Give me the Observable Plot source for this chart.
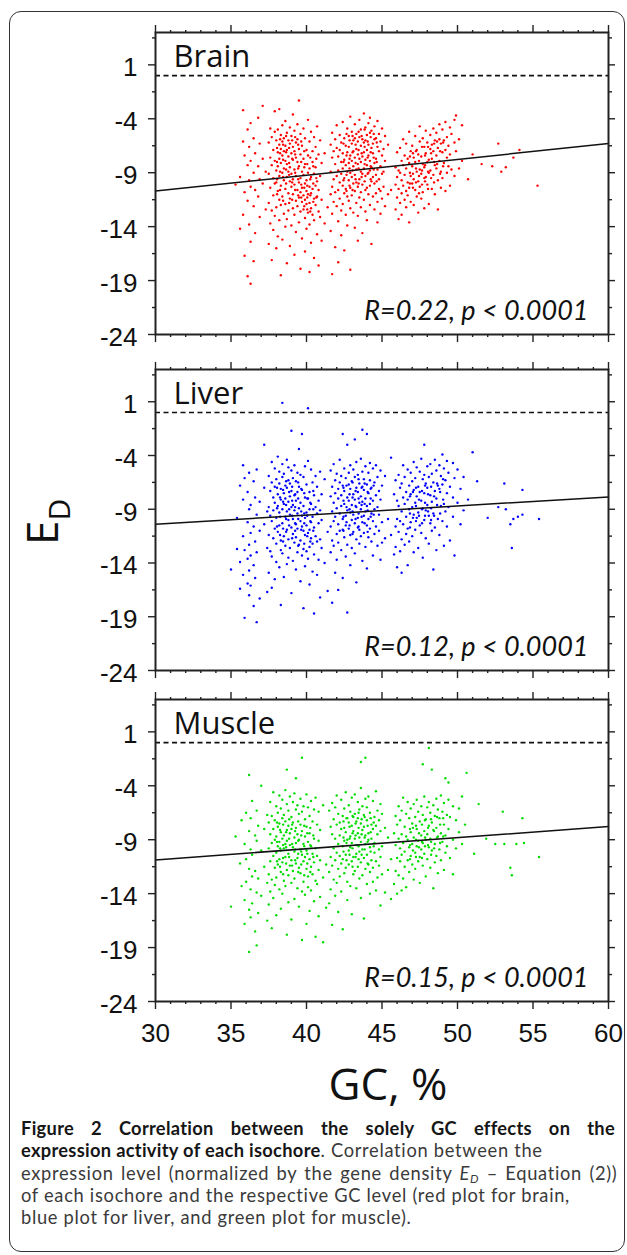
<!DOCTYPE html>
<html><head><meta charset="utf-8">
<script src="https://cdn.jsdelivr.net/npm/d3@7"></script>
<script src="https://cdn.jsdelivr.net/npm/@observablehq/plot@0.6"></script>
<style>
html,body{margin:0;padding:0;background:#fff;}
#fig{position:relative;width:627px;height:1255px;overflow:hidden;font-family:"Open Sans",sans-serif;background:#fff;}
#box{position:absolute;left:9px;top:11px;width:616px;height:1241px;border:1.5px solid #333;border-radius:12px;box-sizing:border-box;}
.panel{position:absolute;left:0;}
#caption{position:absolute;left:21px;top:1117px;width:594px;font-family:Lato,"Open Sans",sans-serif;font-size:18.3px;line-height:22.3px;letter-spacing:0.7px;color:#3a3a3a;white-space:nowrap;}
#caption b{color:#161616;letter-spacing:0.3px;}
#caption .l1{text-align:justify;text-align-last:justify;white-space:normal;}
#caption .l3{word-spacing:2px;}
#caption sub{font-size:12px;line-height:0;vertical-align:-3px;}
#overlay{position:absolute;left:0;top:0;pointer-events:none;}
</style></head><body>
<div id="fig">
<div id="box"></div>
<div id="p0" class="panel"></div>
<div id="p1" class="panel"></div>
<div id="p2" class="panel"></div>
<svg id="overlay" width="627" height="1255"></svg>
<div id="caption">
<div class="l1"><b>Figure 2 Correlation between the solely GC effects on the</b></div>
<div><b>expression activity of each isochore</b>. Correlation between the</div>
<div class="l3">expression level (normalized by the gene density <i>E<sub>D</sub></i> – Equation (2))</div>
<div>of each isochore and the respective GC level (red plot for brain,</div>
<div>blue plot for liver, and green plot for muscle).</div>
</div>
</div>
<script>
// ---- data (each row: GC %, then E_D values at that GC) ----
const tissues = ["Brain", "Liver", "Muscle"];
const colors = ["#ff0000", "#0000ff", "#00dd00"];
const rTexts = ["R=0.22, p < 0.0001", "R=0.12, p < 0.0001", "R=0.15, p < 0.0001"];
const fitSlope = [0.1467, 0.085, 0.1033];
const fitIntercept = [-15.1, -12.95, -13.97];
const xMajor = [30, 35, 40, 45, 50, 55, 60];
const yMajor = [1, -4, -9, -14, -19, -24];
const yMinor = [3.5, -1.5, -6.5, -11.5, -16.5, -21.5];
const xLabel = "GC, %";
const yLabel = "E";
const yLabelSub = "D";

const brainCols = [
[35.3,-10.1],[35.6,-9.4,-14.2],[35.8,-3.2,-6.1,-12.9],[35.9,-7.4,-10.8,-16.7],[36.1,-5.0,-8.3,-11.6,-18.6],
[36.2,-6.6,-9.7,-13.8],[36.3,-4.4,-7.9,-10.3,-15.4,-19.3],[36.5,-5.8,-9.0,-12.1,-17.2],[36.6,-7.2,-10.6,-14.6],
[36.8,-3.9,-8.4,-11.2],[36.9,-6.3,-9.6,-13.1],[37.1,-2.8,-7.7,-10.0],[37.3,-8.9,-12.4],
[37.5,-6.2,-9.1,-11.8,-15.6],[37.6,-4.9,-7.6,-10.4,-13.7],[37.7,-5.7,-8.3,-12.5,-17.1],[37.8,-6.9,-9.5,-11.1,-14.3],
[37.9,-3.3,-5.2,-7.9,-10.0,-13.0],[38.0,-6.0,-8.8,-9.9,-12.2,-16.0],[38.1,-5.0,-7.1,-8.4,-10.7,-14.9],
[38.2,-3.1,-6.4,-7.7,-9.3,-11.5,-13.4],[38.3,-5.5,-6.8,-8.1,-10.2,-12.0,-18.5],[38.4,-4.6,-6.1,-7.4,-9.0,-11.2,-15.2],
[38.5,-5.8,-7.0,-8.6,-9.7,-12.8],[38.6,-4.2,-6.5,-7.9,-10.5,-11.9,-14.0],[38.7,-5.3,-6.9,-8.2,-9.4,-13.3,-17.4],
[38.8,-6.0,-7.5,-8.9,-10.9,-12.5],[38.9,-4.8,-6.3,-8.5,-9.8,-11.4,-15.8],[39.0,-5.6,-7.2,-9.1,-10.3,-13.9],
[39.1,-3.6,-6.6,-7.8,-9.6,-11.0,-12.3],[39.2,-5.1,-7.0,-8.7,-10.1,-12.9,-16.6],[39.3,-6.2,-7.6,-9.3,-11.6,-14.5],
[39.4,-4.5,-5.9,-8.0,-10.6,-12.1],[39.5,-2.3,-6.8,-8.4,-9.9,-11.3,-13.6],[39.6,-5.4,-7.3,-9.5,-10.8,-12.6,-17.9],
[39.7,-6.5,-8.9,-10.4,-11.7,-15.1],[39.8,-4.9,-7.7,-9.2,-11.1,-12.4],[39.9,-5.8,-8.2,-10.0,-11.5,-13.2,-16.3],
[40.0,-6.9,-9.7,-10.7,-11.9,-14.2],[40.1,-4.1,-7.4,-9.0,-11.0,-12.7],[40.2,-6.1,-8.6,-10.3,-11.8,-13.8,-18.2],
[40.3,-5.2,-9.4,-10.9,-12.3,-15.5],[40.4,-7.0,-8.0,-10.5,-12.9],[40.5,-5.7,-9.1,-11.4,-13.4,-16.9],
[40.6,-6.6,-8.5,-10.2,-12.0],[40.7,-4.7,-9.8,-11.2,-14.7],[40.8,-7.3,-10.6,-12.6,-17.6],[40.9,-6.0,-9.3,-13.1],
[41.0,-8.1,-11.5,-15.3],[41.2,-7.2,-13.7],[41.4,-12.2],
[41.6,-6.4,-8.9,-11.0,-14.4],[41.7,-5.3,-7.6,-10.3,-12.8,-18.4],[41.8,-7.0,-9.6,-11.7],[41.9,-5.9,-8.2,-10.8,-15.9],
[42.0,-4.6,-6.7,-9.3,-12.1],[42.1,-7.5,-8.8,-10.6,-13.5,-17.3],[42.2,-5.5,-6.9,-9.9,-11.4],[42.3,-6.2,-8.0,-9.1,-12.5,-14.8],
[42.4,-4.3,-7.2,-8.6,-10.2,-11.9],[42.5,-5.8,-7.8,-9.5,-10.9,-16.2],[42.6,-6.5,-8.3,-10.5,-12.9],
[42.7,-4.9,-7.1,-8.9,-11.2,-13.9],[42.8,-5.6,-6.6,-8.1,-9.7,-11.6],[42.9,-3.8,-7.4,-9.0,-10.4,-12.3,-18.0],
[43.0,-5.2,-6.3,-7.9,-9.4,-11.1],[43.1,-6.0,-7.0,-8.4,-10.0,-12.7],[43.2,-4.5,-5.8,-7.6,-9.2,-10.7,-14.1],
[43.3,-5.4,-6.8,-8.7,-9.9,-11.8],[43.4,-6.1,-7.3,-8.2,-10.3,-13.0,-15.3],[43.5,-4.1,-5.7,-7.7,-9.6,-11.3],
[43.6,-5.0,-6.5,-8.0,-8.9,-10.8,-12.2],[43.7,-5.9,-7.5,-9.1,-10.1,-14.6],[43.8,-3.5,-6.2,-7.1,-8.6,-11.5],
[43.9,-4.8,-6.0,-7.8,-9.3,-10.6,-12.6],[44.0,-5.5,-6.9,-8.3,-10.4,-13.4],[44.1,-4.4,-6.4,-7.4,-9.0,-11.0],
[44.2,-3.9,-5.3,-7.9,-8.8,-10.2,-12.0],[44.3,-5.1,-6.7,-8.5,-9.8,-15.6],[44.4,-6.3,-7.2,-9.4,-11.2],
[44.5,-4.7,-5.9,-8.1,-10.0,-12.4],[44.6,-5.8,-7.7,-9.2,-10.9],[44.7,-4.2,-6.6,-8.7,-11.7,-13.6],
[44.8,-5.4,-7.0,-9.6,-10.5],[44.9,-6.1,-8.4,-10.7,-12.8],[45.0,-4.9,-7.4,-9.1,-11.4],[45.1,-6.8,-8.9,-10.3],
[45.2,-5.6,-7.9,-12.1],[45.4,-6.4,-11.0],[45.6,-10.6],
[45.9,-8.5,-10.1,-12.4],[46.0,-7.1,-9.4,-11.3],[46.1,-8.8,-10.5,-13.3],[46.2,-6.7,-9.0,-11.8],[46.3,-7.9,-9.7,-10.9,-12.9],
[46.4,-5.9,-8.3,-10.2],[46.5,-7.4,-9.2,-11.5],[46.6,-6.3,-8.6,-10.7,-12.2],[46.7,-7.7,-9.9,-11.1],[46.8,-5.2,-8.1,-10.4,-13.6],
[46.9,-7.0,-9.3,-11.7],[47.0,-6.5,-8.4,-10.0],[47.1,-7.6,-9.6,-12.0],[47.2,-5.6,-8.0,-10.6],[47.3,-6.9,-8.9,-11.2],
[47.4,-7.3,-9.8,-12.7],[47.5,-4.7,-6.1,-8.7,-10.3],[47.6,-7.5,-9.1,-11.4],[47.7,-5.8,-8.2,-10.8],[47.8,-6.6,-8.5,-9.5,-12.3],
[47.9,-5.1,-7.2,-9.4],[48.0,-6.2,-8.0,-10.1],[48.1,-7.8,-9.0,-11.9],[48.2,-5.5,-6.8,-8.8],[48.3,-6.4,-7.7,-10.5],
[48.4,-4.9,-7.0,-9.2],[48.5,-6.0,-8.3,-11.0],[48.6,-5.3,-7.4,-8.6],[48.7,-6.7,-9.7,-12.4],[48.8,-4.5,-5.9,-7.9],
[48.9,-6.3,-8.9,-10.4],[49.0,-5.0,-7.1,-9.5],[49.1,-6.0,-8.1],[49.2,-4.3,-6.9,-10.7],[49.3,-5.7,-7.6,-9.0],
[49.4,-6.5,-8.4],[49.5,-4.8,-7.3,-10.2],[49.6,-5.4,-8.7],[49.8,-4.1,-6.2,-9.3],[49.9,-3.7,-7.0],[50.1,-5.9,-8.6],[50.3,-4.6,-7.9],
[50.7,-9.6],[51.0,-7.3],[51.6,-8.2],[52.3,-8.4],[52.7,-6.3],[52.9,-8.9],[53.2,-8.5],[53.7,-7.6],[54.1,-6.9],[55.3,-10.2]
];
const brainCore = [
[38.05,-6.7,-8.0,-9.6,-11.0],[38.25,-5.9,-7.2,-8.9,-10.6],[38.45,-6.4,-7.8,-9.4,-11.6],[38.65,-5.6,-7.1,-8.7,-10.0],
[38.85,-6.7,-8.1,-9.2,-11.8],[39.05,-6.0,-7.7,-9.9,-11.5],[39.25,-5.7,-7.3,-9.0,-10.6],[39.45,-6.4,-8.6,-9.6,-11.1],
[39.65,-6.1,-8.0,-10.1,-11.3],[39.85,-7.0,-8.5,-10.4,-12.1],[40.05,-8.2,-10.2,-11.3,-12.4],[40.25,-7.6,-9.6,-11.1,-12.6],
[40.45,-8.4,-10.0,-11.7],[40.65,-7.7,-9.5,-11.3],
[42.45,-6.3,-8.0,-9.7],[42.65,-5.4,-7.4,-9.2,-10.7],[42.85,-6.0,-7.7,-8.6,-10.2],[43.05,-5.6,-7.1,-8.8,-10.6],
[43.25,-6.4,-8.1,-9.6],[43.45,-5.2,-6.9,-8.6,-10.0],[43.65,-5.6,-7.2,-9.4],[43.85,-5.0,-6.6,-8.2,-9.8],
[44.05,-6.1,-7.6,-9.1],[44.25,-5.7,-7.1,-8.4,-9.6],[44.45,-5.4,-7.6,-8.7],[44.65,-6.2,-8.0,-9.8],
[46.85,-7.5,-9.0,-10.0],[47.05,-7.2,-9.1,-10.4],[47.25,-7.0,-8.6,-9.9],[47.45,-7.9,-9.3,-10.9],[47.65,-6.6,-8.8,-10.1],
[47.85,-7.4,-8.3,-9.8],[48.05,-6.6,-8.9,-10.5],[48.25,-7.2,-9.5],[48.45,-6.3,-8.0,-9.9],[48.65,-6.1,-8.2],
[48.85,-7.0,-9.1],[49.05,-6.2,-8.4]
];

const liverCols = [
[35.0,-14.6],[35.4,-9.8,-12.7],[35.6,-6.8,-13.9,-16.4],[35.8,-4.9,-8.1,-11.5,-15.1],[35.9,-6.1,-12.8,-19.1],
[36.1,-7.4,-10.2,-13.6,-15.9],[36.2,-5.6,-9.0,-12.3,-14.7,-17.0],[36.3,-8.6,-11.2,-13.3,-16.1],[36.5,-6.4,-10.6,-14.2,-18.0],
[36.6,-7.9,-12.0,-15.4],[36.7,-5.3,-9.5,-13.0,-19.5],[36.9,-8.3,-11.0,-17.3],[37.2,-3.0,-7.0,-10.4],[37.4,-9.2,-12.6,-16.7],
[37.5,-5.9,-8.8,-11.4,-14.9],[37.6,-7.3,-9.6,-12.9],[37.7,-4.6,-6.5,-10.1,-13.4,-16.3],[37.8,-7.9,-9.1,-11.7],
[37.9,-5.2,-6.9,-8.4,-10.8,-15.5],[38.0,-6.2,-9.8,-12.2,-13.9],[38.1,-4.1,-7.6,-8.7,-11.1],[38.2,-5.5,-6.6,-9.3,-10.5,-14.4],
[38.3,-7.1,-8.1,-11.9,-12.8,-17.9],[38.4,0.9,-4.8,-6.0,-9.0,-10.3,-13.1],[38.5,-5.7,-7.5,-8.5,-11.5,-15.3],
[38.6,-6.8,-8.0,-9.7,-12.4],[38.7,-4.4,-7.0,-9.2,-10.9,-14.1],[38.8,-5.1,-6.3,-8.3,-10.0,-11.8,-13.5],
[38.9,-6.6,-7.8,-9.5,-12.6],[39.0,-1.7,-5.4,-7.3,-8.8,-10.7,-16.8],[39.1,-6.1,-8.6,-9.9,-11.3,-13.8],
[39.2,-4.9,-7.7,-9.1,-12.1],[39.3,-6.4,-8.2,-10.4,-11.6,-14.6],[39.4,-5.6,-7.4,-9.4,-10.8,-13.0],
[39.5,-3.4,-6.9,-8.9,-12.3],[39.6,-5.8,-8.4,-10.1,-11.9,-15.7],[39.7,-2.0,-7.2,-9.6,-10.6,-13.3],
[39.8,-6.0,-8.7,-11.0,-12.7,-18.2],[39.9,-5.0,-7.9,-9.8,-11.4,-14.3],[40.0,-6.7,-9.3,-10.5,-12.9],
[40.1,0.4,-4.5,-8.0,-11.2,-13.6],[40.2,-7.4,-9.0,-10.9,-12.5,-16.0],[40.3,-5.3,-8.5,-10.2,-11.7],
[40.4,-6.5,-9.7,-12.2,-14.8],[40.5,-7.7,-10.7,-13.2,-18.7],[40.6,-5.9,-8.8,-11.5],[40.7,-6.9,-9.4,-12.0,-15.1],
[40.8,-8.2,-10.3,-13.7],[40.9,-5.5,-9.1,-11.8,-17.2],[41.0,-7.6,-10.0,-12.6],[41.2,-6.2,-14.0],[41.4,-11.1,-16.6],
[41.6,-5.4,-7.8,-10.6,-13.0],[41.7,-6.9,-9.2,-11.9,-17.7],[41.8,-4.8,-8.4,-10.1,-12.4],[41.9,-6.3,-7.5,-9.7,-14.9],
[42.0,-5.7,-8.9,-11.3,-13.7],[42.1,-7.1,-8.0,-10.4,-12.1,-16.5],[42.2,-4.4,-6.5,-9.4,-11.0],[42.3,-5.9,-7.7,-8.7,-12.8],
[42.4,-2.0,-6.8,-9.9,-10.9,-15.4],[42.5,-5.2,-7.3,-8.5,-11.6],[42.6,-6.1,-9.6,-10.5,-13.4],[42.7,-3.0,-7.9,-9.1,-12.3,-18.6],
[42.8,-5.6,-6.7,-8.2,-10.8],[42.9,-4.9,-7.1,-9.3,-11.4,-14.2],[43.0,-6.4,-8.6,-10.0,-12.6],[43.1,-5.3,-7.6,-9.5,-11.1],
[43.2,-2.5,-6.0,-8.1,-10.3,-13.1],[43.3,-4.6,-7.0,-8.8,-11.8,-15.8],[43.4,-5.8,-7.4,-9.8,-10.7],[43.5,-6.6,-8.4,-10.9,-12.2],
[43.6,-4.3,-7.8,-9.0,-11.5],[43.7,-1.6,-5.5,-6.9,-8.3,-10.2,-13.8],[43.8,-6.2,-7.2,-9.6,-11.2],[43.9,-5.0,-8.0,-9.2,-12.5],
[44.0,-2.0,-6.7,-8.7,-10.5,-14.5],[44.1,-5.6,-7.5,-9.9,-11.6],[44.2,-4.7,-6.3,-8.5,-10.8],[44.3,-7.0,-9.4,-12.0],
[44.4,-5.2,-8.2,-10.1,-13.3],[44.5,-6.5,-9.0,-11.3],[44.6,-4.9,-7.7,-10.6],[44.7,-6.0,-8.8,-12.4],[44.8,-7.3,-9.5,-11.0],
[44.9,-5.4,-8.1,-13.7],[45.0,-6.8,-10.2,-12.1],[45.2,-5.9,-11.7],[45.4,-9.9],[45.6,-4.2,-11.4],
[45.8,-7.6,-13.2],[45.9,-6.3,-10.6,-12.5],[46.0,-8.2,-9.9,-14.4],[46.1,-5.8,-8.7,-11.1],[46.2,-7.0,-10.1,-12.9],
[46.3,-6.6,-9.2,-11.8,-14.9],[46.4,-4.9,-7.9,-10.4],[46.5,-6.0,-8.5,-12.3],[46.6,-7.4,-9.7,-11.3],[46.7,-5.3,-8.1,-10.8,-14.2],
[46.8,-6.8,-9.0,-12.0],[46.9,-5.6,-7.6,-10.2],[47.0,-6.4,-8.8,-11.5],[47.1,-4.6,-7.2,-9.5,-13.0],[47.2,-6.1,-8.4,-10.9],
[47.3,-5.1,-7.8,-9.8],[47.4,-6.9,-9.3,-12.6],[47.5,-5.5,-7.4,-10.5],[47.6,-4.3,-8.2,-11.2],[47.7,-6.2,-8.9,-13.5],
[47.8,-3.0,-5.8,-7.5,-10.0],[47.9,-6.6,-9.1,-11.7],[48.0,-5.0,-7.0,-8.6],[48.1,-6.0,-9.6,-12.2],[48.2,-4.8,-7.7,-10.3],
[48.3,-5.7,-8.3,-11.0],[48.4,-6.5,-9.4,-14.6],[48.5,-4.4,-7.3,-10.7],[48.6,-5.4,-8.0,-12.8],[48.7,-6.8,-9.9],
[48.8,-4.9,-7.1,-11.4],[48.9,-5.9,-8.7],[49.0,-3.9,-6.7,-10.1],[49.1,-5.2,-8.5,-12.4],[49.2,-6.3,-9.2],
[49.3,-4.5,-7.5,-10.6],[49.4,-5.6,-8.8],[49.5,-6.9,-11.9],[49.7,-4.7,-7.9,-9.7],[49.8,-6.1,-13.3],[50.0,-5.3,-8.4],
[50.2,-7.1,-10.4],[50.4,-6.0,-9.1],
[50.7,-8.1],[51.0,-3.7],[51.3,-6.4],[52.0,-9.8],[52.7,-8.8],[53.1,-6.6],[53.2,-9.0],[53.5,-10.4],[53.6,-12.6],
[53.7,-9.9],[54.0,-9.7],[54.3,-7.2,-9.5],[55.4,-9.9]
];
const liverCore = [
[38.05,-7.0,-8.9,-10.6],[38.25,-7.9,-9.7,-11.4],[38.45,-7.2,-8.3,-10.8,-12.0],[38.65,-6.4,-8.6,-9.9,-11.1],
[38.85,-7.4,-9.0,-10.5],[39.05,-6.9,-8.2,-9.6,-11.7],[39.25,-7.6,-8.8,-10.3,-11.0],[39.45,-6.5,-8.0,-9.9,-12.4],
[39.65,-7.1,-9.2,-10.9],[39.85,-7.5,-9.4,-10.3,-12.2],[40.05,-8.0,-9.6,-11.5],[40.25,-8.4,-10.1,-12.0],[40.45,-7.3,-9.0,-11.0],
[42.45,-7.0,-8.2,-9.7,-11.0],[42.65,-6.8,-8.8,-10.2],[42.85,-7.6,-9.0,-10.5],[43.05,-6.5,-7.9,-9.2,-11.3],
[43.25,-7.3,-8.7,-9.9],[43.45,-6.2,-8.0,-9.4,-10.6],[43.65,-7.0,-8.6,-9.7],[43.85,-6.6,-8.5,-10.3],
[44.05,-7.4,-9.1,-11.1],[44.25,-7.1,-8.0,-9.7],[44.45,-6.8,-9.5],
[46.85,-7.8,-9.4,-10.7],[47.05,-7.4,-9.8],[47.25,-7.0,-8.7,-10.1],[47.45,-8.1,-9.6],[47.65,-7.3,-9.0,-10.3],
[47.85,-6.8,-8.4,-9.6],[48.05,-7.6,-9.2],[48.25,-6.9,-8.9,-10.0],[48.45,-7.8,-9.6],[48.65,-6.6,-8.6],
[48.85,-7.4,-9.4],[49.05,-6.2,-8.1]
];

const muscleCols = [
[35.0,-15.2],[35.3,-8.7],[35.6,-11.2],[35.7,-7.2,-13.3],[35.9,-9.4,-14.6,-16.8],[36.0,-6.5,-10.8,-12.9],
[36.2,-3.0,-8.2,-11.7,-15.5,-19.4],[36.3,-7.0,-9.9,-13.6,-16.2],[36.4,-5.4,-10.4,-12.4,-14.9],[36.6,-8.6,-11.9,-17.5],
[36.7,-6.3,-9.1,-13.9,-18.8],[36.8,-7.7,-12.6,-15.8],[37.0,-4.0,-10.0,-14.2],[37.2,-8.0,-11.5],[37.4,-6.7,-13.0,-16.5],
[37.5,-7.4,-9.8,-12.2,-15.0],[37.6,-5.5,-8.5,-11.0,-13.8],[37.7,-6.8,-9.3,-12.7,-17.2],[37.8,-4.6,-8.0,-10.5,-14.4],
[37.9,-7.2,-9.0,-11.6,-13.2],[38.0,-5.9,-8.7,-10.2,-12.5,-16.0],[38.1,-6.5,-7.8,-9.6,-11.3],[38.2,-4.9,-7.5,-9.2,-10.8,-13.6],
[38.3,-6.1,-8.3,-10.0,-12.0,-15.4],[38.4,-5.3,-7.0,-8.9,-11.1,-14.0],[38.5,-6.7,-8.6,-9.8,-12.8],
[38.6,-4.4,-7.3,-9.4,-10.6,-13.3],[38.7,-2.5,-5.7,-8.1,-9.1,-11.8,-17.8],[38.8,-6.3,-7.7,-10.3,-12.3,-14.8],
[38.9,-5.0,-8.4,-9.5,-11.4],[39.0,-6.9,-8.0,-10.9,-13.0,-16.4],[39.1,-5.5,-7.4,-9.7,-11.9],[39.2,-4.7,-8.8,-10.1,-12.6,-14.5],
[39.3,-3.3,-6.2,-7.9,-9.3,-11.2],[39.4,-5.8,-8.5,-10.7,-13.5],[39.5,-6.6,-9.0,-11.6,-15.2],[39.6,-5.2,-7.6,-9.9,-12.1],
[39.7,-1.4,-6.4,-8.2,-10.4,-13.8,-18.3],[39.8,-5.9,-9.4,-11.0,-12.9],[39.9,-7.1,-8.7,-10.6,-14.1],
[40.0,-4.8,-7.8,-10.0,-11.7,-16.8],[40.1,-6.0,-9.2,-12.4,-13.4],[40.2,-6.8,-8.4,-10.8,-15.6],[40.3,-5.4,-9.6,-11.5,-13.7],
[40.4,-7.3,-10.3,-12.2],[40.5,-6.2,-8.9,-11.1,-14.7],[40.6,-5.1,-9.8,-12.8,-18.0],[40.7,-7.6,-10.5,-13.1],
[40.8,-6.4,-9.1,-11.8,-16.1],[40.9,-8.1,-10.9,-14.3],[41.1,-5.8,-12.5,-18.5],[41.3,-11.3,-15.3],
[41.5,-6.3,-12.0,-14.9],[41.6,-7.8,-10.6,-13.6],[41.7,-5.6,-8.5,-11.4,-16.9],[41.8,-7.1,-9.8,-12.7],
[41.9,-6.0,-8.9,-10.9,-14.2],[42.0,-4.9,-7.6,-10.2,-13.0],[42.1,-6.6,-9.4,-11.7,-15.7],[42.2,-7.4,-8.6,-10.5,-12.4],
[42.3,-5.3,-8.0,-11.2,-13.8],[42.4,-6.8,-9.6,-10.8,-17.3],[42.5,-6.1,-7.9,-9.1,-12.1],[42.6,-4.6,-8.3,-10.4,-11.6],
[42.7,-7.0,-9.0,-12.9,-14.6],[42.8,-5.8,-7.4,-10.0,-11.3],[42.9,-6.4,-8.7,-9.7,-13.3],[43.0,-5.1,-7.7,-9.3,-11.0,-15.9],
[43.1,-6.9,-8.2,-10.6,-12.2],[43.2,-4.8,-6.6,-8.9,-11.9],[43.3,-7.3,-9.5,-10.3,-13.5],[43.4,-5.5,-7.0,-8.4,-11.5],
[43.5,-6.2,-8.8,-10.1,-12.6],[43.6,-1.8,-4.2,-7.5,-9.2,-11.1,-14.4],[43.7,-5.9,-8.1,-9.9,-12.3],[43.8,-6.7,-7.8,-10.7,-16.3],
[43.9,-1.4,-5.2,-8.6,-9.4,-11.7],[44.0,-6.0,-7.2,-10.4,-13.1],[44.1,-5.0,-8.4,-9.0,-11.3],[44.2,-6.5,-9.7,-12.0,-14.0],
[44.3,-7.6,-8.9,-10.9],[44.4,-5.4,-8.0,-11.6,-12.9],[44.5,-6.9,-9.3,-10.2],[44.6,-4.5,-7.7,-11.0,-13.7],
[44.7,-6.3,-8.5,-12.5],[44.8,-7.2,-9.9,-11.4],[44.9,-5.7,-8.2,-10.6,-15.1],[45.0,-6.6,-9.6,-12.2],[45.2,-7.9,-13.9],
[45.4,-8.8,-11.8],[45.6,-10.8,-14.5],
[45.8,-8.4,-13.1],[45.9,-6.8,-9.5,-11.9],[46.0,-7.6,-10.7,-14.0],[46.1,-5.9,-8.9,-12.3],[46.2,-7.2,-9.8,-11.0],
[46.3,-6.3,-8.5,-10.4,-13.7],[46.4,-5.1,-9.3,-12.6],[46.5,-7.8,-10.1,-11.5],[46.6,-6.6,-8.7,-13.4],[46.7,-5.5,-9.0,-10.9],
[46.8,-7.0,-9.7,-12.0],[46.9,-6.1,-8.3,-10.5],[47.0,-7.5,-9.4,-11.3],[47.1,-5.7,-8.8,-12.7],[47.2,-6.9,-10.2,-11.7],
[47.3,-5.3,-8.0,-9.6],[47.4,-6.4,-9.1,-11.0],[47.5,-7.3,-10.6,-13.0],[47.6,-5.9,-8.6,-9.9],[47.7,-2.0,-6.7,-9.3,-11.4],
[47.8,-5.0,-8.2,-10.3],[47.9,-7.1,-9.0,-12.4],[48.0,-6.0,-8.5,-10.8],[48.1,-0.5,-5.5,-7.7,-9.7],[48.2,-6.5,-8.9,-11.6],
[48.3,-2.5,-7.4,-10.0],[48.4,-5.8,-8.1,-13.5],[48.5,-6.8,-9.4,-11.1],[48.6,-5.2,-7.9,-10.5],[48.7,-6.2,-8.7,-12.1],
[48.8,-7.0,-9.9],[48.9,-4.9,-8.4,-10.9],[49.0,-6.4,-9.2],[49.1,-5.6,-7.6,-11.8],[49.2,-3.3,-8.6,-10.2],[49.3,-6.7,-9.6],
[49.4,-3.7,-5.3,-8.0],[49.5,-6.9,-10.7],[49.7,-5.9,-9.0,-12.2],[49.9,-7.2,-9.8],[50.1,-6.1,-8.3],[50.3,-5.0,-9.4],[50.5,-7.6],
[50.6,-2.8],[51.1,-10.3],[51.4,-5.7],[51.9,-8.9],[52.5,-9.4],[53.0,-6.4],[53.1,-9.4],[53.5,-11.6],[53.6,-12.3],
[53.9,-9.4],[54.3,-7.0],[54.4,-9.3],[55.4,-10.6]
];
const muscleCore = [
[38.05,-7.4,-9.2,-11.0],[38.25,-8.1,-9.8,-11.5],[38.45,-7.6,-9.5,-10.7,-12.2],[38.65,-8.3,-9.7,-11.2],
[38.85,-7.1,-8.9,-10.6],[39.05,-7.6,-9.4,-11.4],[39.25,-8.2,-9.9,-10.9],[39.45,-7.3,-9.1,-10.3,-12.0],
[39.65,-8.6,-10.1,-11.3],[39.85,-7.7,-9.6,-12.3],[40.05,-8.4,-10.3,-11.2],[40.25,-7.9,-9.5,-12.0],[40.45,-8.6,-10.6],
[42.45,-7.3,-8.8,-10.1],[42.65,-7.0,-9.3,-10.9],[42.85,-7.8,-8.9,-10.4],[43.05,-6.8,-8.4,-9.8,-11.5],
[43.25,-7.5,-8.6,-10.6],[43.45,-6.5,-7.9,-9.6,-10.8],[43.65,-7.1,-8.5,-10.4],[43.85,-6.9,-8.8,-9.9],
[44.05,-7.7,-9.2,-11.2],[44.25,-7.0,-8.3,-10.1],[44.45,-7.4,-9.6],
[46.85,-8.0,-9.5,-10.8],[47.05,-7.9,-10.0],[47.25,-7.7,-9.0,-10.6],[47.45,-8.4,-9.7],[47.65,-7.6,-9.2,-10.7],
[47.85,-7.2,-8.8,-9.6],[48.05,-7.9,-9.5],[48.25,-7.1,-9.2,-10.4],[48.45,-8.2,-9.8],[48.65,-6.9,-8.8],
[48.85,-7.6,-9.3],[49.05,-7.0,-8.7]
];
const allCols = [brainCols.concat(brainCore), liverCols.concat(liverCore), muscleCols.concat(muscleCore)];

// ---- layout ----
const frameTops = [32, 369, 699];
const frameHeights = [302, 301, 302];
const xMinor = d3.range(30, 61).filter(v => v % 5 !== 0);
const fmt = d => String(d);

tissues.forEach((name, i) => {
  const pts = allCols[i].flatMap(([gc, ...eds]) => eds.map(ed => ({gc, ed})));
  const fit = [30, 60].map(gc => ({gc, ed: fitIntercept[i] + fitSlope[i] * gc}));
  const last = i === 2;
  const mt = 10, mb = last ? 52 : 10;
  const axisCommon = {label: null, stroke: "#222", strokeWidth: 1.4};
  const marks = [
    Plot.ruleY([0], {stroke: "#111", strokeWidth: 1.6, strokeDasharray: "5,3.5"}),
    Plot.dot(pts, {x: "gc", y: "ed", r: 1.2, fill: colors[i], stroke: null}),
    Plot.line(fit, {x: "gc", y: "ed", stroke: "#111", strokeWidth: 1.5}),
    Plot.text([name], {text: d => d, frameAnchor: "top-left", lineAnchor: "top", dx: 18, dy: 12,
      fontFamily: "Open Sans", fontSize: 31, fill: "#111"}),
    Plot.text([rTexts[i]], {text: d => d, frameAnchor: "bottom-right", lineAnchor: "bottom", dx: -20, dy: -15,
      fontFamily: "Lato", fontStyle: "italic", fontSize: 27, fill: "#111"}),
    Plot.axisY(yMajor, {...axisCommon, anchor: "left", tickSize: 7, fill: "none"}),
    Plot.axisY(yMinor, {...axisCommon, anchor: "left", tickSize: 3, fill: "none"}),
    Plot.axisY(yMajor, {...axisCommon, anchor: "right", tickSize: 6, fill: "none"}),
    Plot.axisY(yMinor, {...axisCommon, anchor: "right", tickSize: 3, fill: "none"}),
    Plot.axisY(yMajor, {label: null, anchor: "left", tickSize: 0, tickPadding: 18, dy: 3, tickFormat: fmt,
      fontSize: 26, fill: "#111"}),
    Plot.axisX(xMajor, {...axisCommon, anchor: "top", tickSize: 8, fill: "none"}),
    Plot.axisX(xMinor, {...axisCommon, anchor: "top", tickSize: 3, fill: "none"}),
    Plot.axisX(xMajor, {...axisCommon, anchor: "bottom", tickSize: 8, fill: "none"}),
    Plot.axisX(xMinor, {...axisCommon, anchor: "bottom", tickSize: 3, fill: "none"}),
    Plot.frame({stroke: "#222", strokeWidth: 2})
  ];
  if (last) marks.push(Plot.axisX(xMajor, {label: null, anchor: "bottom", tickSize: 0, tickPadding: 22,
    tickFormat: fmt, fontSize: 26, fill: "#111"}));
  const plot = Plot.plot({
    width: 627, height: frameHeights[i] + mt + mb,
    marginLeft: 155, marginRight: 19, marginTop: mt, marginBottom: mb,
    x: {domain: [30, 60]},
    y: {domain: [-24, 4]},
    style: {background: "transparent", fontFamily: "'Liberation Sans', Arial, sans-serif", color: "#111", overflow: "visible"},
    marks
  });
  const holder = document.getElementById("p" + i);
  holder.style.top = (frameTops[i] - mt) + "px";
  holder.appendChild(plot);
});

// axis titles
const ov = d3.select("#overlay");
const ty = ov.append("text").attr("transform", "translate(58,545) rotate(-90)")
  .attr("font-family", "Open Sans").attr("font-size", 44).attr("fill", "#111");
ty.append("tspan").text(yLabel);
ty.append("tspan").attr("font-size", 30).attr("dy", 12).text(yLabelSub);
ov.append("text").attr("x", 388).attr("y", 1100).attr("text-anchor", "middle")
  .attr("font-family", "Open Sans").attr("font-size", 44).attr("fill", "#111").text(xLabel);
</script>
</body></html>
